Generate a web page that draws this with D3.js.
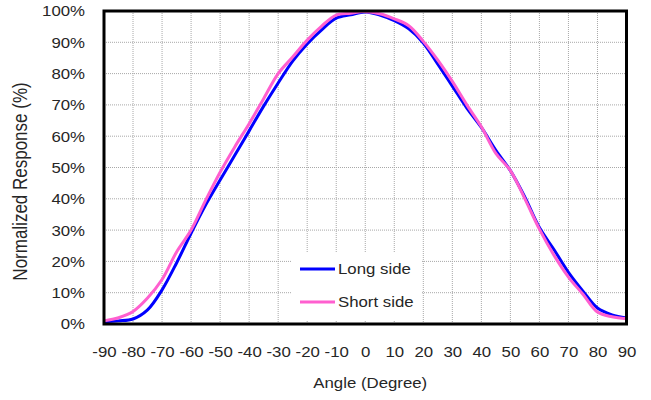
<!DOCTYPE html>
<html>
<head>
<meta charset="utf-8">
<script src="https://cdn.jsdelivr.net/npm/d3@7"></script>
<style>
  body { margin: 0; background: #fff; }
  svg { display: block; }
  text { font-family: Arial, "Liberation Sans", sans-serif; fill: #262626; }
</style>
</head>
<body>
<svg id="chart" width="651" height="400"></svg>
<script>
const angles = [-90,-85,-80,-75,-70,-65,-60,-55,-50,-45,-40,-35,-30,-25,-20,-15,-10,-5,0,5,10,15,20,25,30,35,40,45,50,55,60,65,70,75,80,85,90];
const longSide = [0.7,1.0,1.6,4.5,10.9,19.5,29.0,38.0,46.0,53.8,61.7,69.6,77.0,84.0,89.5,94.0,97.7,98.8,99.7,98.7,96.9,94.3,89.8,83.0,76.0,69.0,62.8,55.5,49.0,40.5,30.8,23.8,16.5,10.5,5.1,2.9,1.9];
const shortSide = [1.0,2.0,4.0,8.3,14.2,23.0,30.0,39.5,48.5,56.5,64.0,72.0,80.0,85.3,90.7,95.2,98.7,99.3,99.8,99.1,97.5,95.3,90.3,84.3,77.5,70.0,63.0,54.5,49.0,40.0,30.3,22.0,15.0,9.5,3.8,2.3,1.7];
const xTicks = [-90,-80,-70,-60,-50,-40,-30,-20,-10,0,10,20,30,40,50,60,70,80,90];
const yTicks = [0,10,20,30,40,50,60,70,80,90,100];
const seriesNames = ["Long side", "Short side"];
const seriesColors = ["#0000ff", "#ff5fcf"];

const svg = d3.select("#chart");
const L = 104, R = 626.5, T = 11, B = 324;
const x = d3.scaleLinear().domain([-90, 90]).range([L, R]);
const y = d3.scaleLinear().domain([0, 100]).range([B, T]);
const SX = 1.2;

// gridlines
const grid = svg.append("g").attr("stroke", "#a8a8a8").attr("stroke-width", 1).attr("stroke-dasharray", "1,1");
xTicks.filter(d => d > -90 && d < 90).forEach(d => {
  grid.append("line").attr("x1", x(d)).attr("x2", x(d)).attr("y1", T).attr("y2", B);
});
yTicks.filter(d => d > 0 && d < 100).forEach(d => {
  grid.append("line").attr("x1", L).attr("x2", R).attr("y1", y(d)).attr("y2", y(d));
});

// lines
const line = d3.line().x((d, i) => x(angles[i])).y(d => y(d)).curve(d3.curveCatmullRom.alpha(0.5));
[longSide, shortSide].forEach((s, k) => {
  svg.append("path").datum(s).attr("d", line).attr("fill", "none")
    .attr("stroke", seriesColors[k]).attr("stroke-width", 3).attr("stroke-linejoin", "round");
});

// legend box
svg.append("rect").attr("x", 292).attr("y", 252).attr("width", 130).attr("height", 68).attr("fill", "#fff");
seriesNames.forEach((n, k) => {
  const ly = 269 + k * 33;
  svg.append("line").attr("x1", 300).attr("x2", 335).attr("y1", ly).attr("y2", ly)
    .attr("stroke", seriesColors[k]).attr("stroke-width", 3);
  svg.append("text").attr("transform", `translate(338,${ly + 5}) scale(${SX},1)`)
    .attr("font-size", 14).text(n);
});

// frame
svg.append("rect").attr("x", L).attr("y", T).attr("width", R - L).attr("height", B - T)
  .attr("fill", "none").attr("stroke", "#000").attr("stroke-width", 3);

// axes
const xAxis = svg.append("g").attr("transform", `translate(0,${B})`)
  .call(d3.axisBottom(x).tickValues(xTicks).tickSize(0).tickPadding(0).tickFormat(d => String(d)));
xAxis.select(".domain").remove();
xAxis.selectAll("text").attr("y", 0).attr("dy", 0)
  .attr("transform", `translate(0,33) scale(${SX},1)`)
  .attr("font-size", 14).attr("fill", "#262626").attr("font-family", null);

const yAxis = svg.append("g").attr("transform", `translate(85,0)`)
  .call(d3.axisLeft(y).tickValues(yTicks).tickSize(0).tickPadding(0).tickFormat(d => d + "%"));
yAxis.select(".domain").remove();
yAxis.selectAll("text").attr("x", 0).attr("dy", "0.35em")
  .attr("transform", `scale(${SX},1)`)
  .attr("font-size", 14).attr("fill", "#262626").attr("font-family", null);

// titles
svg.append("text").attr("transform", `translate(${(L + R) / 2 + 5},388) scale(${SX},1)`)
  .attr("text-anchor", "middle").attr("font-size", 14).text("Angle (Degree)");
svg.append("text").attr("transform", `translate(27,${(T + B) / 2 + 14}) rotate(-90) scale(1,${SX})`)
  .attr("text-anchor", "middle").attr("font-size", 17).text("Normalized Response (%)");
</script>
</body>
</html>
